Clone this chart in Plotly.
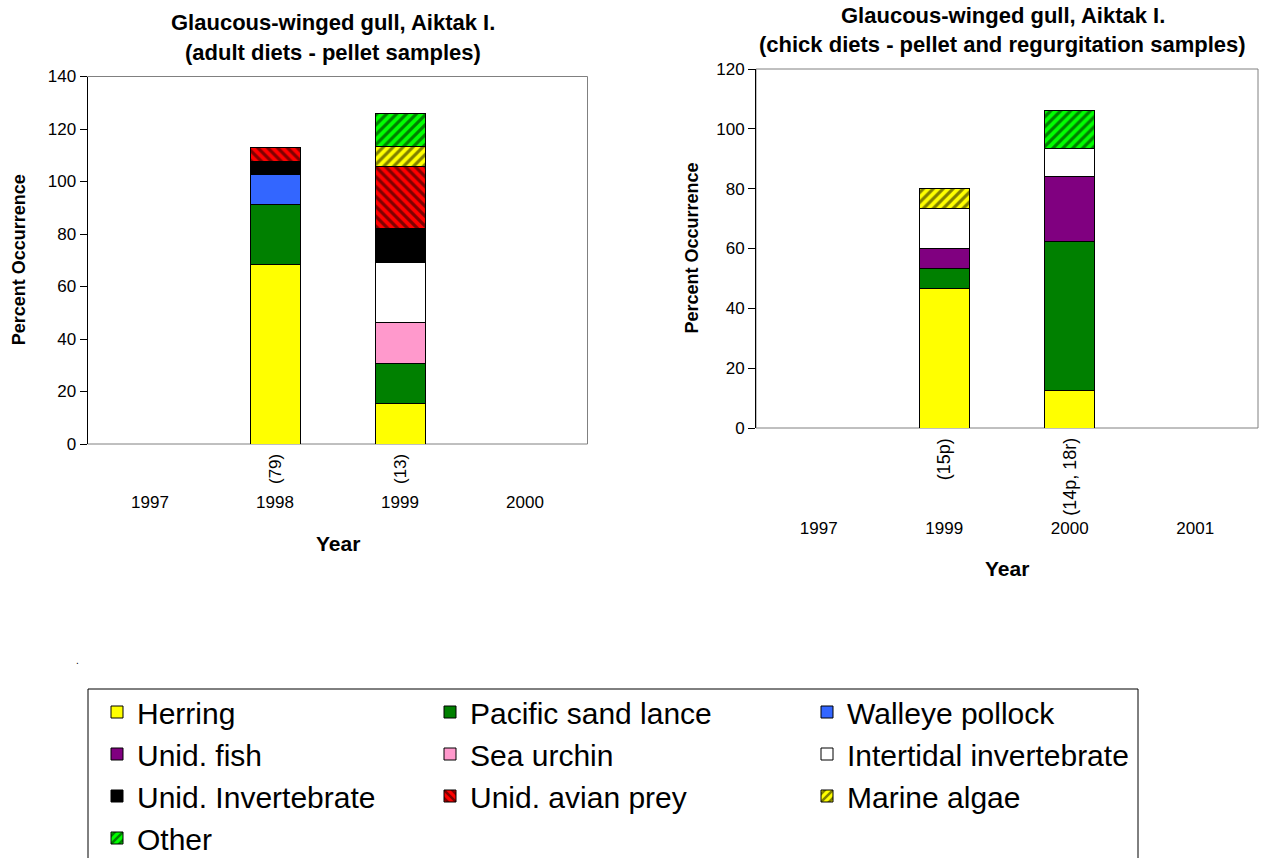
import plotly.graph_objects as go

W, H = 1262, 858
FONT = "Liberation Sans, Arial, sans-serif"

# ---------------- data ----------------
series_names = ["Herring", "Pacific sand lance", "Walleye pollock", "Unid. fish",
                "Sea urchin", "Intertidal invertebrate", "Unid. Invertebrate",
                "Unid. avian prey", "Marine algae", "Other"]

# Adult diets (pellet samples)
adult_years = ["1997", "1998", "1999", "2000"]
adult_sample_labels = ["", "(79)", "(13)", ""]
adult_herring = [None, 68.4, 15.4, None]
adult_sand_lance = [None, 22.8, 15.4, None]
adult_pollock = [None, 11.4, None, None]
adult_unid_fish = [None, None, None, None]
adult_urchin = [None, None, 15.4, None]
adult_intertidal = [None, None, 23.1, None]
adult_unid_invert = [None, 5.1, 12.8, None]
adult_avian = [None, 5.1, 23.8, None]
adult_algae = [None, None, 7.6, None]
adult_other = [None, None, 12.3, None]

# Chick diets (pellet and regurgitation samples)
chick_years = ["1997", "1999", "2000", "2001"]
chick_sample_labels = ["", "(15p)", "(14p, 18r)", ""]
chick_herring = [None, 46.7, 12.5, None]
chick_sand_lance = [None, 6.7, 49.9, None]
chick_pollock = [None, None, None, None]
chick_unid_fish = [None, 6.7, 21.8, None]
chick_urchin = [None, None, None, None]
chick_intertidal = [None, 13.3, 9.2, None]
chick_unid_invert = [None, None, None, None]
chick_avian = [None, None, None, None]
chick_algae = [None, 6.7, None, None]
chick_other = [None, None, 12.8, None]

adult_series = [adult_herring, adult_sand_lance, adult_pollock, adult_unid_fish, adult_urchin,
                adult_intertidal, adult_unid_invert, adult_avian, adult_algae, adult_other]
chick_series = [chick_herring, chick_sand_lance, chick_pollock, chick_unid_fish, chick_urchin,
                chick_intertidal, chick_unid_invert, chick_avian, chick_algae, chick_other]

# ---------------- styles ----------------
colors = ["#FFFF00", "#008000", "#3366FF", "#800080", "#FF99CC",
          "#FFFFFF", "#000000", "#FF0000", "#FFFF00", "#00FF00"]
patterns = ["", "", "", "", "", "", "", "\\", "/", "/"]
# three legend columns, filled row by row
legend_ids = ["legend", "legend2", "legend3"]

fig = go.Figure()


def add_series(xs, ys_list, xaxis, yaxis, show):
    for i, (name, ys) in enumerate(zip(series_names, ys_list)):
        if patterns[i]:
            pat = dict(shape=patterns[i], fgcolor="#000000", size=7, solidity=0.45)
        else:
            pat = dict(shape="")
        fig.add_trace(go.Bar(
            x=xs, y=ys, name=name, xaxis=xaxis, yaxis=yaxis,
            legendgroup=name, showlegend=show, legendrank=i + 1,
            legend=legend_ids[i % 3],
            marker=dict(color=colors[i], line=dict(color="#000000", width=1), pattern=pat),
            hoverinfo="name+y",
        ))


add_series(adult_years, adult_series, "x", "y", True)
add_series(chick_years, chick_series, "x2", "y2", False)

# plot-area geometry (pixels)
L1, R1, T1, B1 = 87.5, 587.5, 76.5, 444
L2, R2, T2, B2 = 756, 1258, 69, 428


def px(x):
    return x / W


def py(y):
    return 1 - y / H


axis_common = dict(showgrid=False, zeroline=False, automargin=False)
tickfont = dict(family=FONT, size=17, color="#000000")
legfont = dict(family=FONT, size=30, color="#000000")
leg_common = dict(orientation="v", xanchor="left", yanchor="top", y=py(686),
                  borderwidth=0, bgcolor="rgba(0,0,0,0)", font=legfont,
                  traceorder="normal", itemclick=False, itemdoubleclick=False)

fig.update_layout(
    width=W, height=H,
    margin=dict(l=0, r=0, t=0, b=0, pad=0, autoexpand=False),
    paper_bgcolor="white", plot_bgcolor="white",
    barmode="stack", bargap=0.6,
    font=dict(family=FONT, color="#000000"),
    xaxis=dict(domain=[px(L1), px(R1)], anchor="y", type="category",
               categoryorder="array", categoryarray=adult_years, range=[-0.5, 3.5],
               showline=False, ticks="", tickfont=tickfont, ticklabelstandoff=46,
               **axis_common),
    yaxis=dict(domain=[py(B1), py(T1)], anchor="x", range=[0, 140], dtick=20,
               showline=True, linecolor="#000000", linewidth=1,
               ticks="outside", ticklen=7, tickcolor="#000000", tickfont=tickfont,
               **axis_common),
    xaxis2=dict(domain=[px(L2), px(R2)], anchor="y2", type="category",
                categoryorder="array", categoryarray=chick_years, range=[-0.5, 3.5],
                showline=False, ticks="", tickfont=tickfont, ticklabelstandoff=88,
                **axis_common),
    yaxis2=dict(domain=[py(B2), py(T2)], anchor="x2", range=[0, 120], dtick=20,
                showline=True, linecolor="#000000", linewidth=1,
                ticks="outside", ticklen=7, tickcolor="#000000", tickfont=tickfont,
                **axis_common),
    legend=dict(x=px(97), **leg_common),
    legend2=dict(x=px(430), **leg_common),
    legend3=dict(x=px(807), **leg_common),
)

# plot frames (gray) drawn below traces
for xr, yr in (("x domain", "y domain"), ("x2 domain", "y2 domain")):
    fig.add_shape(type="rect", xref=xr, yref=yr, x0=0, x1=1, y0=0, y1=1,
                  line=dict(color="#808080", width=1), layer="below")
# legend frame
fig.add_shape(type="rect", xref="paper", yref="paper", x0=px(88), x1=px(1138),
              y0=py(870), y1=py(689), line=dict(color="#000000", width=1), layer="below")

annotations = []


def text_ann(text, x, y, size, bold=True, angle=0):
    annotations.append(dict(text=f"<b>{text}</b>" if bold else text, x=px(x), y=py(y),
                            xref="paper", yref="paper", xanchor="center", yanchor="middle",
                            showarrow=False, textangle=angle,
                            font=dict(family=FONT, size=size, color="#000000")))


# chart titles
text_ann("Glaucous-winged gull, Aiktak I.", 333, 22, 22)
text_ann("(adult diets - pellet samples)", 333, 53, 22)
text_ann("Glaucous-winged gull, Aiktak I.", 1003, 15, 22)
text_ann("(chick diets - pellet and regurgitation samples)", 1003, 44, 22)
# axis titles
text_ann("Year", (L1 + R1) / 2, 543, 21)
text_ann("Year", (L2 + R2) / 2, 568, 21)
text_ann("Percent Occurrence", 19, (T1 + B1) / 2, 18, angle=-90)
text_ann("Percent Occurrence", 691, (T2 + B2) / 2, 18, angle=-90)
# stray full stop present in the source figure
text_ann(".", 77, 660, 10, bold=False)

# sample-size labels (rotated), positioned by category index on each x axis
for idx, lab in enumerate(adult_sample_labels):
    if lab:
        annotations.append(dict(text=lab, x=idx, xref="x", y=py(B1 + 8), yref="paper",
                                xanchor="center", yanchor="top", showarrow=False, textangle=-90,
                                font=dict(family=FONT, size=17, color="#000000")))
for idx, lab in enumerate(chick_sample_labels):
    if lab:
        annotations.append(dict(text=lab, x=idx, xref="x2", y=py(B2 + 8), yref="paper",
                                xanchor="center", yanchor="top", showarrow=False, textangle=-90,
                                font=dict(family=FONT, size=18, color="#000000")))
fig.update_layout(annotations=annotations)

fig.write_html("out.html", config={"displayModeBar": False},
               post_script="document.body.style.margin='0';document.body.style.overflow='hidden';")
